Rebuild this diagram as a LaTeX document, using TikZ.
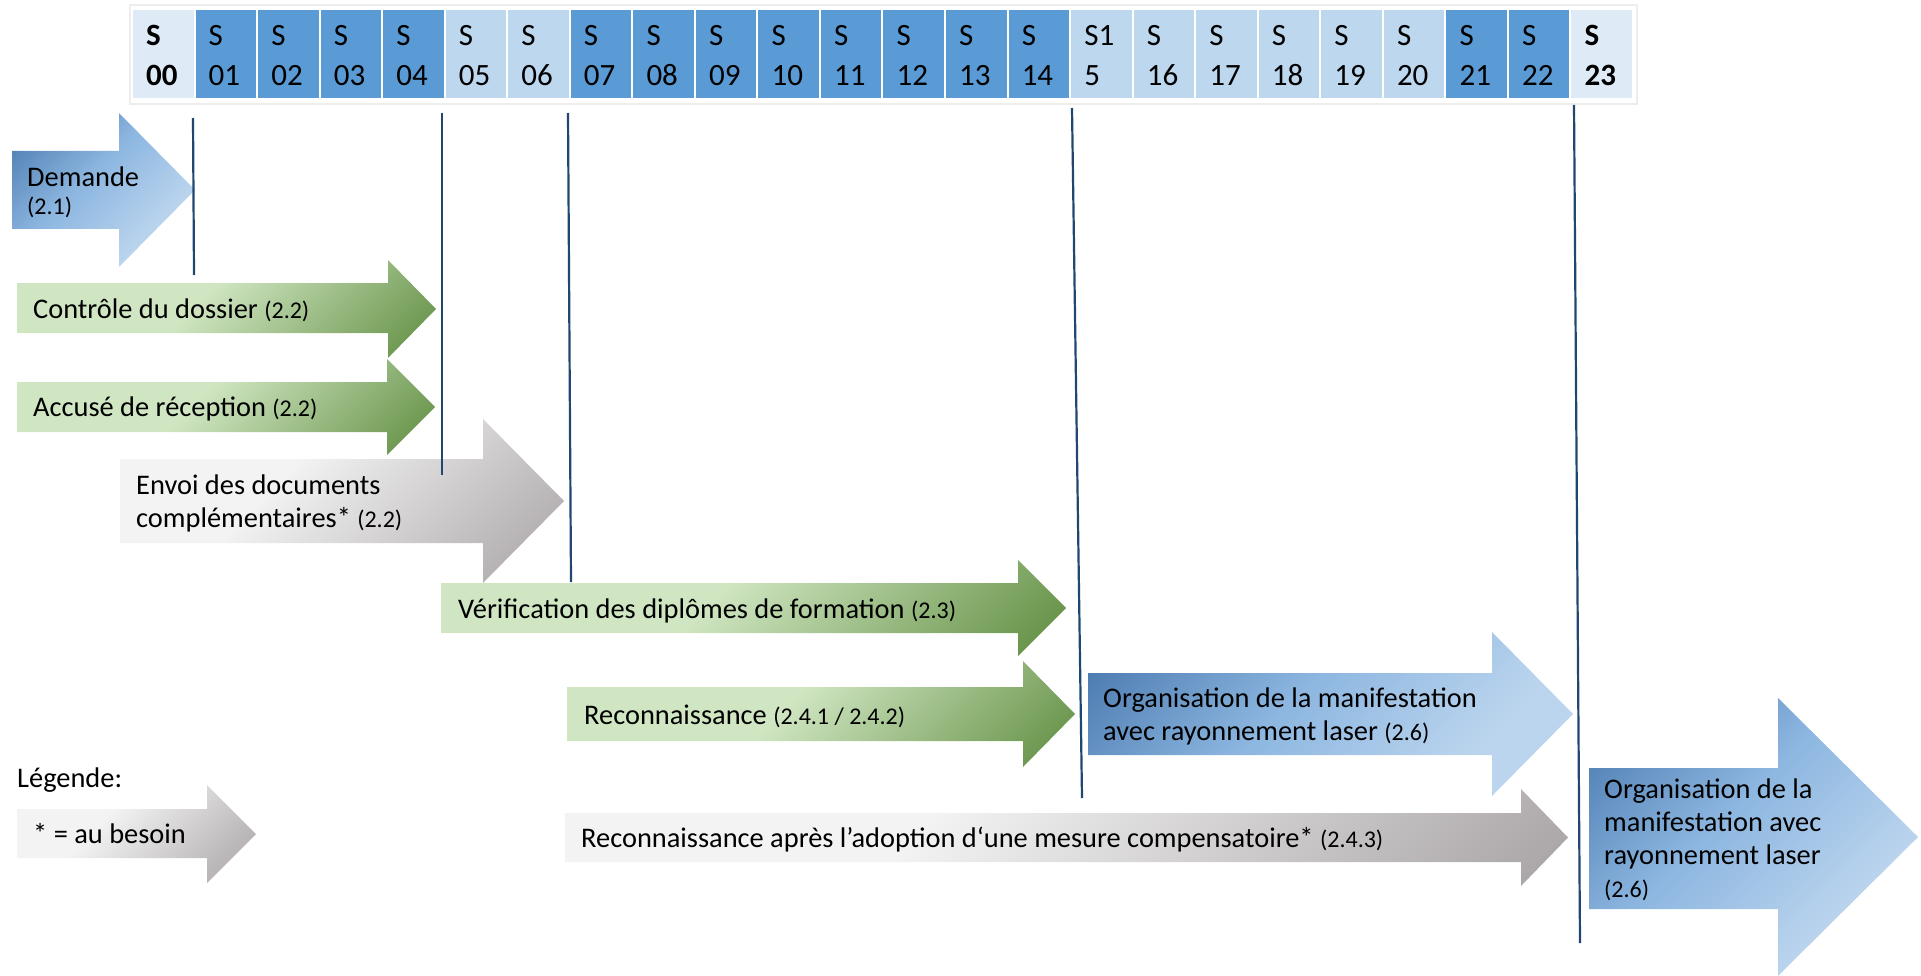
\documentclass[tikz,border=0pt]{standalone}
\usepackage{fontspec}
\setmainfont{Carlito}
\definecolor{hdark}{RGB}{91,155,213}
\definecolor{hlight}{RGB}{189,215,238}
\definecolor{hvlight}{RGB}{222,235,247}
\definecolor{grL}{RGB}{208,230,194}
\definecolor{grD}{RGB}{92,138,60}
\definecolor{gyL}{RGB}{243,243,243}
\definecolor{gyD}{RGB}{166,161,163}
\definecolor{blD}{RGB}{70,118,172}
\definecolor{blM}{RGB}{140,182,224}
\definecolor{blL}{RGB}{188,213,238}
\definecolor{mline}{RGB}{33,70,112}
\pgfdeclarehorizontalshading{greensh}{100bp}{color(0bp)=(grL); color(45bp)=(grL); color(86bp)=(grD); color(100bp)=(grD)}
\pgfdeclarehorizontalshading{graysh}{100bp}{color(0bp)=(gyL); color(40bp)=(gyL); color(86bp)=(gyD); color(100bp)=(gyD)}
\pgfdeclarehorizontalshading{bluesh}{100bp}{color(0bp)=(blD); color(16bp)=(blD); color(44bp)=(blM); color(70bp)=(blL); color(100bp)=(blL)}
\newcommand\pp[1]{{\fontsize{24}{24}\selectfont #1}}
\newcommand\myarrow[8]{%
  \path[#1] (#2,#3) -- (#5,#3) -- (#5,#6) -- (#8,{(#6+#7)/2}) -- (#5,#7) -- (#5,#4) -- (#2,#4) -- cycle;}
\tikzset{
  greenarrow/.style={shade, shading=greensh, shading angle=-45},
  grayarrow/.style={shade, shading=graysh, shading angle=-45},
  bluearrow/.style={shade, shading=bluesh, shading angle=-45},
  lbl/.style={anchor=north west, inner sep=0pt, align=left, font=\fontsize{28.4}{33}\selectfont},
  hdr/.style={anchor=north west, inner sep=0pt, align=left, font=\fontsize{31}{40}\selectfont},
  milestone/.style={draw=mline, line width=2.2pt},
}
\begin{document}
\begin{tikzpicture}[x=1pt,y=-1pt]
\useasboundingbox (0,0) rectangle (1921,976);
% header
\path[draw=black!7, fill=white, line width=1.5pt] (130,5) rectangle (1637,104);
\foreach \i/\t/\c in {0/{\textbf{S}\\\textbf{00}}/hvlight, 1/{S\\01}/hdark, 2/{S\\02}/hdark, 3/{S\\03}/hdark, 4/{S\\04}/hdark,
  5/{S\\05}/hlight, 6/{S\\06}/hlight, 7/{S\\07}/hdark, 8/{S\\08}/hdark, 9/{S\\09}/hdark, 10/{S\\10}/hdark,
  11/{S\\11}/hdark, 12/{S\\12}/hdark, 13/{S\\13}/hdark, 14/{S\\14}/hdark, 15/{S1\\5}/hlight,
  16/{S\\16}/hlight, 17/{S\\17}/hlight, 18/{S\\18}/hlight, 19/{S\\19}/hlight, 20/{S\\20}/hlight,
  21/{S\\21}/hdark, 22/{S\\22}/hdark, 23/{\textbf{S}\\\textbf{23}}/hvlight}{
  \pgfmathsetmacro\xl{133+62.54*\i}
  \fill[\c] (\xl,10) rectangle ({\xl+60.5},98);
  \node[hdr] (h\i) at ({\xl+13},17) {\strut\t};
}
% arrows
\myarrow{bluearrow}{12}{151}{229}{119}{113}{267}{195}
\node[anchor=north west, inner sep=0pt, align=left, font=\fontsize{28.4}{28}\selectfont] (demande) at (27,166.4) {\strut Demande\\\strut\pp{(2.1)}};

\myarrow{greenarrow}{17}{283}{333}{388}{260}{358}{436}
\node[lbl] (controle) at (33,{318-23.1}) {\strut Contrôle du dossier \pp{(2.2)}};

\myarrow{greenarrow}{17}{382}{432}{387}{359}{455}{435}
\node[lbl] (accuse) at (33,{416-23.1}) {\strut Accusé de réception \pp{(2.2)}};

\myarrow{grayarrow}{120}{459}{543}{483}{419}{583}{564}
\node[lbl] (envoi) at (136,{494.5-23.1}) {\strut Envoi des documents\\\strut complémentaires* \pp{(2.2)}};

\myarrow{greenarrow}{441}{583}{633}{1018}{560}{656}{1066}
\node[lbl] (verif) at (458,{618-23.1}) {\strut Vérification des diplômes de formation \pp{(2.3)}};

\myarrow{greenarrow}{567}{687}{741}{1023}{661}{767}{1075}
\node[lbl] (reco) at (584,{724-23.1}) {\strut Reconnaissance \pp{(2.4.1 / 2.4.2)}};

\myarrow{bluearrow}{1088}{673}{755}{1492}{632}{796}{1573}
\node[lbl] (orga) at (1103,{707.5-23.1}) {\strut Organisation de la manifestation\\\strut avec rayonnement laser \pp{(2.6)}};

\myarrow{grayarrow}{565}{813}{862}{1521}{789}{886}{1568}
\node[lbl] (recoapres) at (581,{847-23.1}) {\strut Reconnaissance après l’adoption d‘une mesure compensatoire* \pp{(2.4.3)}};

\myarrow{bluearrow}{1589}{768}{909}{1778}{698}{976}{1918}
\node[lbl] (orgb) at (1604,{798.5-23.1}) {\strut Organisation de la\\\strut manifestation avec\\\strut rayonnement laser\\\strut \pp{(2.6)}};

% legend
\node[lbl] (legende) at (17,{787-23.1}) {\strut Légende:};
\myarrow{grayarrow}{17}{809}{858}{207}{785}{883}{256}
\node[lbl] (besoin) at (33,{843-23.1}) {\strut * = au besoin};

% milestone lines
\coordinate (m1t) at (193,118); \coordinate (m1b) at (194,275);
\coordinate (m2t) at (442,113); \coordinate (m2b) at (442,475);
\coordinate (m3t) at (568,113); \coordinate (m3b) at (571,582);
\coordinate (m4t) at (1072,108); \coordinate (m4b) at (1082,798);
\coordinate (m5t) at (1574,105); \coordinate (m5b) at (1580,943);
\draw[milestone] (m1t) -- (m1b);
\draw[milestone] (m2t) -- (m2b);
\draw[milestone] (m3t) -- (m3b);
\draw[milestone] (m4t) -- (m4b);
\draw[milestone] (m5t) -- (m5b);
\end{tikzpicture}
\end{document}
